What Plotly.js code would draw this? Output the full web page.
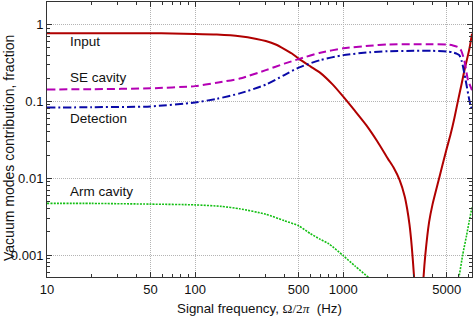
<!DOCTYPE html>
<html>
<head>
<meta charset="utf-8">
<script src="https://cdn.plot.ly/plotly-3.0.1.min.js"></script>
<style>html,body{margin:0;padding:0;background:#fff;}#chart{width:474px;height:316px;}</style>
</head>
<body>
<div id="chart"></div>
<script>
// ---- data ----
const freqInput = [10, 20, 30, 50, 70, 100, 140, 200, 260, 300, 350, 400, 450, 500, 600, 700, 850, 1000, 1200, 1430, 1700, 2000, 2200, 2400, 2600, 2700, 2800, 2900, 3000, 3120, 3240, 3360, 3480, 3580, 3800, 4000, 4440, 4955, 5300, 5620, 5940, 6300, 6650, 6930, 7130, 7250, 7400];
const input = [0.77, 0.77, 0.77, 0.77, 0.765, 0.755, 0.74, 0.705, 0.65, 0.61, 0.55, 0.48, 0.42, 0.36, 0.285, 0.235, 0.165, 0.115, 0.075, 0.049, 0.03, 0.018, 0.0135, 0.0095, 0.0058, 0.004, 0.0025, 0.0013, 0.00055, 0.00013, 0.000005, 0.00013, 0.0005, 0.001, 0.0027, 0.0045, 0.01, 0.023, 0.037, 0.06, 0.1, 0.17, 0.28, 0.39, 0.50, 0.60, 0.76];

const freqSE = [10, 20, 50, 100, 140, 200, 300, 400, 500, 700, 1000, 1500, 2000, 3000, 4000, 5000, 5500, 5940, 6250, 6590, 6950, 7400];
const seCavity = [0.143, 0.144, 0.148, 0.158, 0.175, 0.198, 0.255, 0.31, 0.355, 0.43, 0.49, 0.53, 0.55, 0.555, 0.555, 0.55, 0.535, 0.51, 0.46, 0.33, 0.19, 0.14];

const freqDet = [10, 20, 50, 100, 140, 200, 300, 400, 500, 700, 1000, 1500, 2000, 3000, 4000, 5000, 5500, 5800, 6070, 6320, 6700, 7130, 7400];
const detection = [0.083, 0.084, 0.086, 0.097, 0.108, 0.127, 0.165, 0.22, 0.275, 0.345, 0.40, 0.435, 0.45, 0.455, 0.455, 0.445, 0.435, 0.42, 0.40, 0.33, 0.19, 0.10, 0.077];

const freqArm = [10, 20, 50, 100, 150, 200, 300, 400, 500, 600, 700, 800, 1000, 1200, 1500, 2000, 3000, 4000, 5000, 5600, 6000, 6400, 6800, 7100, 7400];
const armCavity = [0.0047, 0.0047, 0.0046, 0.0045, 0.0043, 0.0040, 0.0034, 0.0028, 0.0024, 0.0019, 0.0016, 0.0014, 0.00098, 0.00072, 0.0005, 0.0003, 0.00012, 0.00008, 0.0001, 0.0003, 0.00048, 0.001, 0.0018, 0.0028, 0.0042];

const seriesNames = ['Input', 'SE cavity', 'Detection', 'Arm cavity'];

const xTickVals = [10, 50, 100, 500, 1000, 5000];
const xTickText = ['10', '50', '100', '500', '1000', '5000'];
const yTickVals = [1, 0.1, 0.01, 0.001];
const yTickText = ['1', '0.1', '0.01', '0.001'];
const xRange = [10, 7400];
const yRange = [0.000518, 1.966];

const xTitle = 'Signal frequency,\u00a0<span style="font-family:Liberation Serif, Times New Roman, serif">Ω/2<i>π</i></span>\u00a0\u00a0(Hz)';
const yTitle = 'Vacuum modes contribution, fraction';

// minor tick positions (2..9 within each decade)
function minorTicks(lo, hi, skip) {
  const out = [];
  for (let e = Math.floor(Math.log10(lo)); e <= Math.ceil(Math.log10(hi)); e++) {
    for (let m = 2; m <= 9; m++) {
      const v = m * Math.pow(10, e);
      if (v > lo && v < hi && !skip.some(s => Math.abs(s - v) / v < 1e-6)) out.push(v);
    }
  }
  return out;
}

const FONT = 'Liberation Sans, Arial, Helvetica, sans-serif';
const AX = '#333333';

const traces = [
  {x: freqInput, y: input, name: seriesNames[0], mode: 'lines',
   line: {color: '#b00000', width: 2, shape: 'spline', smoothing: 0.6}},
  {x: freqSE, y: seCavity, name: seriesNames[1], mode: 'lines',
   line: {color: '#b400b4', width: 2, dash: '8px,4px', shape: 'spline', smoothing: 0.6}},
  {x: freqDet, y: detection, name: seriesNames[2], mode: 'lines',
   line: {color: '#0a0aa8', width: 2, dash: '8px,3px,2px,3px', shape: 'spline', smoothing: 0.6}},
  {x: freqArm, y: armCavity, name: seriesNames[3], mode: 'lines',
   line: {color: '#14bf14', width: 1.6, dash: '2px,1.2px', shape: 'spline', smoothing: 0.6}}
];

const axisCommon = {
  type: 'log', showline: true, linecolor: AX, linewidth: 1, mirror: 'allticks',
  ticks: 'inside', ticklen: 5, tickwidth: 1, tickcolor: AX,
  showgrid: true, gridcolor: '#b4b4b4', gridwidth: 1, griddash: '1px,1px',
  zeroline: false, tickmode: 'array',
  tickfont: {family: FONT, size: 13, color: '#111'}
};

const layout = {
  width: 474, height: 316,
  margin: {l: 47, r: 2, t: 2, b: 39},
  paper_bgcolor: '#fff', plot_bgcolor: '#fff',
  showlegend: false,
  font: {family: FONT, size: 13, color: '#111'},
  xaxis: Object.assign({}, axisCommon, {
    range: [Math.log10(xRange[0]), Math.log10(xRange[1])],
    tickvals: xTickVals, ticktext: xTickText,
    minor: {tickmode: 'array', tickvals: minorTicks(xRange[0], xRange[1], xTickVals),
            ticks: 'inside', ticklen: 3, tickwidth: 1, tickcolor: AX, showgrid: false},
    title: {text: xTitle, font: {family: FONT, size: 13.3, color: '#111'}, standoff: 8}
  }),
  yaxis: Object.assign({}, axisCommon, {
    range: [Math.log10(yRange[0]), Math.log10(yRange[1])],
    tickvals: yTickVals, ticktext: yTickText,
    minor: {tickmode: 'array', tickvals: minorTicks(yRange[0], yRange[1], yTickVals),
            ticks: 'inside', ticklen: 3, tickwidth: 1, tickcolor: AX, showgrid: false}
  }),
  annotations: [
    {text: seriesNames[0], x: 0.050, y: 0.855},
    {text: seriesNames[1], x: 0.050, y: 0.727},
    {text: seriesNames[2], x: 0.050, y: 0.578},
    {text: seriesNames[3], x: 0.050, y: 0.312}
  ].map(a => Object.assign(a, {xref: 'paper', yref: 'paper', showarrow: false,
      xanchor: 'left', yanchor: 'middle', font: {family: FONT, size: 13.5, color: '#111'}}))
    .concat([{text: yTitle, xref: 'paper', yref: 'paper', x: -0.0895, y: 0.469,
      textangle: -90, showarrow: false, xanchor: 'center', yanchor: 'middle',
      borderpad: 0, font: {family: FONT, size: 14, color: '#111'}}])
};

Plotly.newPlot('chart', traces, layout, {staticPlot: true, displayModeBar: false});
</script>
</body>
</html>
